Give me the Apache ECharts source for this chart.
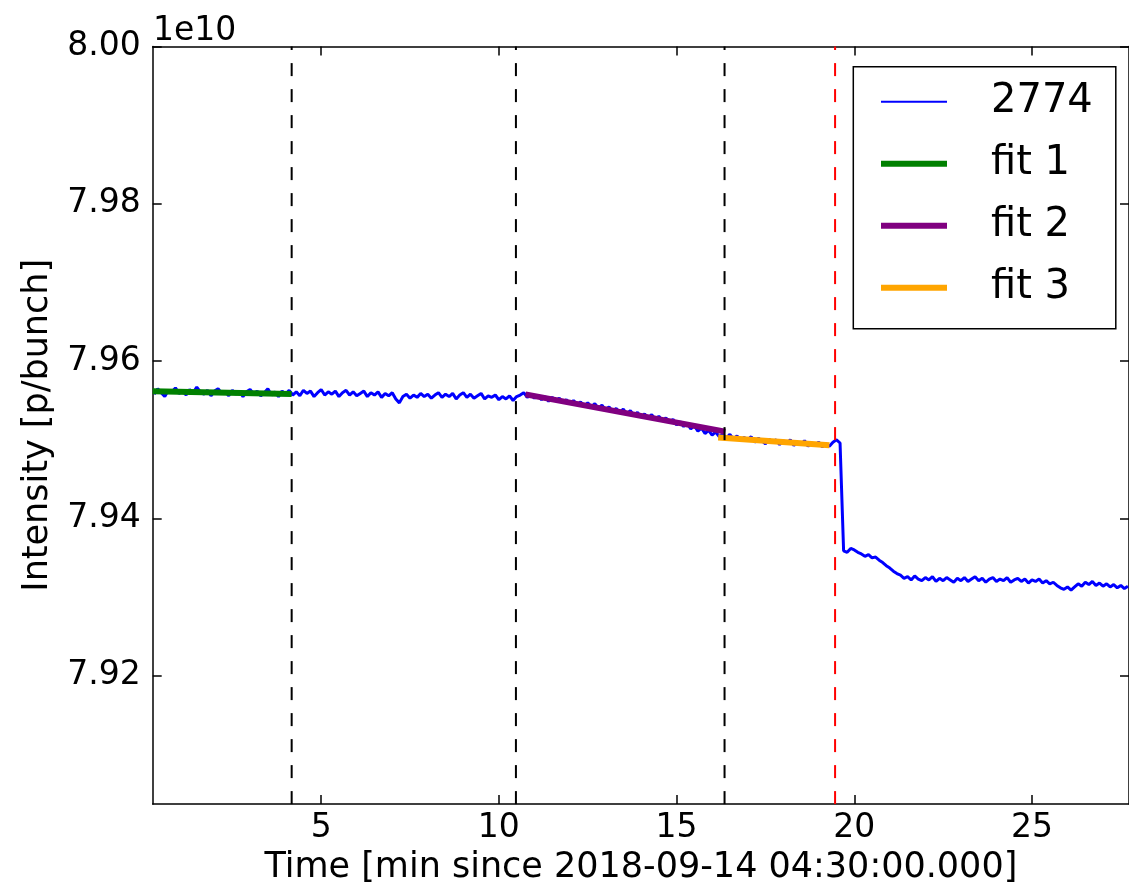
<!DOCTYPE html>
<html>
<head>
<meta charset="utf-8">
<script src="https://cdn.jsdelivr.net/npm/echarts@6/dist/echarts.min.js"></script>
<style>
html,body{margin:0;padding:0;background:#fff;}
#chart{width:1129px;height:890px;}
</style>
</head>
<body>
<div id="chart"></div>
<script>
// ---- data (intensity in units of 1e10 p/bunch, time in minutes) ----
const sampleStart = 0.3;   // first sample time [min]
const sampleStep = 0.1;    // sampling interval [min]
const intensity2774 = [
  // 0.3 - 4.2
  7.9558,7.9565,7.9560,7.9555,7.9563,7.9561,7.9566,7.9559,7.9562,7.9557,
  7.9564,7.9560,7.9567,7.9561,7.9558,7.9563,7.9556,7.9562,7.9565,7.9559,
  7.9561,7.9556,7.9563,7.9558,7.9562,7.9555,7.9561,7.9564,7.9558,7.9562,
  7.9556,7.9560,7.9565,7.9557,7.9561,7.9555,7.9562,7.9558,7.9563,7.9557,
  // 4.3 - 10.5
  7.9561,7.9556,7.9563,7.9559,7.9562,7.9555,7.9560,
  7.9564,7.9557,7.9561,7.9558,7.9562,7.9555,7.9560,7.9563,7.9557,7.9561,
  7.9556,7.9559,7.9562,7.9555,7.9560,7.9557,7.9561,7.9554,7.9559,7.9556,
  7.9560,7.9552,7.9547,7.9555,7.9558,7.9553,7.9557,7.9554,7.9559,7.9555,
  7.9558,7.9553,7.9557,7.9560,7.9554,7.9558,7.9555,7.9559,7.9552,7.9557,
  7.9560,7.9554,7.9558,7.9553,7.9556,7.9559,7.9552,7.9556,7.9554,7.9557,
  7.9551,7.9555,7.9552,7.9556,7.9550,7.9555,
  // 10.6 - 16.3
  7.9557,7.9560,7.9554,7.9558,
  7.9553,7.9557,7.9551,7.9555,7.9549,7.9554,7.9550,7.9553,7.9547,7.9551,
  7.9546,7.9550,7.9545,7.9548,7.9543,7.9547,7.9542,7.9546,7.9540,7.9544,
  7.9538,7.9542,7.9536,7.9540,7.9535,7.9539,7.9533,7.9537,7.9531,7.9535,
  7.9529,7.9533,7.9528,7.9532,7.9526,7.9530,7.9524,7.9528,7.9522,7.9526,
  7.9519,7.9523,7.9517,7.9521,7.9514,7.9518,7.9511,7.9515,7.9508,7.9512,
  7.9506,7.9510,7.9504,7.9507,
  // 16.4 - 19.6
  7.9502,7.9507,7.9501,7.9505,7.9499,7.9503,
  7.9500,7.9504,7.9497,7.9502,7.9499,7.9495,7.9501,7.9497,7.9500,7.9494,
  7.9499,7.9496,7.9500,7.9493,7.9497,7.9494,7.9499,7.9492,7.9496,7.9493,
  7.9497,7.9491,7.9495,7.9492,7.9497,7.9500,7.9496,
  // 19.7 - 27.7
  7.9359,7.9357,7.9362,
  7.9360,7.9357,7.9355,7.9352,7.9354,7.9350,7.9351,7.9347,7.9344,7.9340,
  7.9337,7.9333,7.9330,7.9328,7.9324,7.9326,7.9322,7.9327,7.9323,7.9321,
  7.9325,7.9322,7.9326,7.9320,7.9324,7.9321,7.9325,7.9322,7.9319,7.9324,
  7.9321,7.9325,7.9320,7.9323,7.9326,7.9321,7.9324,7.9319,7.9323,7.9325,
  7.9320,7.9323,7.9321,7.9325,7.9319,7.9322,7.9324,7.9320,7.9323,7.9318,
  7.9322,7.9320,7.9323,7.9318,7.9321,7.9317,7.9319,7.9315,7.9312,7.9310,
  7.9313,7.9309,7.9313,7.9317,7.9314,7.9319,7.9316,7.9320,7.9315,7.9318,
  7.9314,7.9317,7.9313,7.9316,7.9312,7.9315,7.9311,7.9314
];
const fit1 = [[0.26, 7.95617], [4.17, 7.95584]];
const fit2 = [[10.75, 7.95578], [16.37, 7.95105]];
const fit3 = [[16.17, 7.95029], [19.30, 7.94932]];
const blackLines = [4.17, 10.48, 16.35];
const redLines = [19.46];
const xTicks = [5, 10, 15, 20, 25];
const yTicks = [7.92, 7.94, 7.96, 7.98, 8.00];
const xRange = [0.26, 27.73];
const yRange = [7.9037, 8.00];

// ---- build ----
const blueData = intensity2774.map((v, i) => [+(sampleStart + i * sampleStep).toFixed(2), v]);
const FONT = 'DejaVu Sans';
const BLUE = '#0000ff', GREEN = '#008000', PURPLE = '#800080', ORANGE = '#ffa500';

const vSeries = [];
blackLines.forEach((x, i) => vSeries.push({
  name: 'vline' + i, type: 'line', symbol: 'none', silent: true,
  data: [[x, yRange[0]], [x, yRange[1]]],
  lineStyle: {color: '#000', width: 2, type: [13, 13]}
}));
redLines.forEach((x, i) => vSeries.push({
  name: 'rline' + i, type: 'line', symbol: 'none', silent: true,
  data: [[x, yRange[0]], [x, yRange[1]]],
  lineStyle: {color: '#ff0000', width: 2, type: [13, 13]}
}));

const axisCommon = {
  type: 'value',
  splitLine: {show: false},
  axisLine: {show: true, onZero: false, lineStyle: {color: '#000', width: 1.5}},
};

const chart = echarts.init(document.getElementById('chart'), null, {renderer: 'canvas'});
chart.setOption({
  animation: false,
  backgroundColor: '#fff',
  textStyle: {fontFamily: FONT},
  grid: {left: 152.7, top: 46.5, right: -3, bottom: 84.3, containLabel: false},
  xAxis: [
    Object.assign({}, axisCommon, {
      min: xRange[0], max: xRange[1], position: 'bottom',
      axisTick: {show: true, inside: true, length: 9, customValues: xTicks, lineStyle: {color: '#000', width: 1.5}},
      axisLabel: {show: true, customValues: xTicks, margin: 8, fontSize: 33, color: '#000', fontFamily: FONT},
      name: 'Time [min since 2018-09-14 04:30:00.000]',
      nameLocation: 'middle', nameGap: 37,
      nameTextStyle: {fontSize: 35, color: '#000', fontFamily: FONT, verticalAlign: 'top'}
    }),
    Object.assign({}, axisCommon, {
      min: xRange[0], max: xRange[1], position: 'top',
      axisTick: {show: true, inside: true, length: 9, customValues: xTicks, lineStyle: {color: '#000', width: 1.5}},
      axisLabel: {show: false}
    })
  ],
  yAxis: [
    Object.assign({}, axisCommon, {
      min: yRange[0], max: yRange[1], position: 'left',
      axisTick: {show: true, inside: true, length: 9, customValues: yTicks, lineStyle: {color: '#000', width: 1.5}},
      axisLabel: {show: true, customValues: yTicks, margin: 12, fontSize: 33, color: '#000', fontFamily: FONT,
        formatter: v => v.toFixed(2)},
      name: 'Intensity [p/bunch]',
      nameLocation: 'middle', nameGap: 97,
      nameTextStyle: {fontSize: 35, color: '#000', fontFamily: FONT}
    }),
    Object.assign({}, axisCommon, {
      min: yRange[0], max: yRange[1], position: 'right',
      axisTick: {show: true, inside: true, length: 9, customValues: yTicks, lineStyle: {color: '#000', width: 1.5}},
      axisLabel: {show: false}
    })
  ],
  legend: {
    data: [
      {name: '2774', lineStyle: {color: BLUE, width: 2}},
      {name: 'fit 1', lineStyle: {color: GREEN, width: 6}},
      {name: 'fit 2', lineStyle: {color: PURPLE, width: 6}},
      {name: 'fit 3', lineStyle: {color: ORANGE, width: 6}}
    ],
    orient: 'vertical',
    left: 853.3, top: 66.7,
    padding: [11, 23, 17, 24.7],
    itemWidth: 66, itemHeight: 20, itemGap: 14,
    borderColor: '#000', borderWidth: 1.5, borderRadius: 0,
    backgroundColor: '#fff',
    itemStyle: {opacity: 0},
    selectedMode: false,
    textStyle: {fontSize: 40, lineHeight: 48, color: '#000', fontFamily: FONT, padding: [0, 0, 0, 39]}
  },
  graphic: [{
    type: 'text', left: 153, top: 15,
    style: {text: '1e10', fontSize: 33, fill: '#000', fontFamily: FONT}
  }],
  series: [
    {name: '2774', type: 'line', symbol: 'none', data: blueData,
      lineStyle: {color: BLUE, width: 3}, itemStyle: {color: BLUE}},
    {name: 'fit 1', type: 'line', symbol: 'none', data: fit1,
      lineStyle: {color: GREEN, width: 6}, itemStyle: {color: GREEN}},
    {name: 'fit 2', type: 'line', symbol: 'none', data: fit2,
      lineStyle: {color: PURPLE, width: 6}, itemStyle: {color: PURPLE}},
    {name: 'fit 3', type: 'line', symbol: 'none', data: fit3,
      lineStyle: {color: ORANGE, width: 6}, itemStyle: {color: ORANGE}}
  ].concat(vSeries)
});
</script>
</body>
</html>
